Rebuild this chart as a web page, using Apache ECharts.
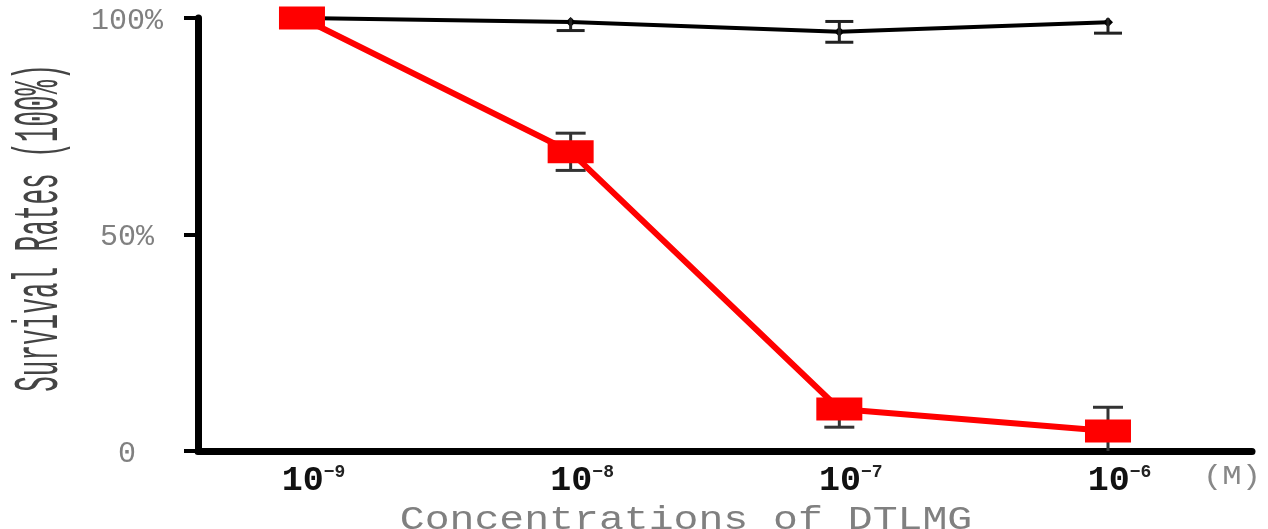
<!DOCTYPE html>
<html><head><meta charset="utf-8">
<script src="https://cdn.jsdelivr.net/npm/echarts@6/dist/echarts.min.js"></script>
<style>html,body{margin:0;padding:0;background:#fff}#c{width:1268px;height:529px}</style>
</head><body><div id="c"></div>
<script>
// log10 of concentration (M)
const concentrations = [-9, -8, -7, -6];
const xTickExponents = ['\u22129', '\u22128', '\u22127', '\u22126'];
const yTickValues = [0, 50, 100];
const yTickLabels = ['0', '50%', '100%'];
const controlValues = [100, 99.1, 96.8, 99.0];
const controlErr = [0.5, 2.0, 2.4, 2.5];
const dtlmgValues = [100, 69.1, 9.7, 4.6];
const dtlmgErrUp = [0, 4.3, 1.5, 5.5];
const dtlmgErrDown = [0, 4.3, 4.2, 5.5];

const chart = echarts.init(document.getElementById('c'));

function errData(vals, up, down) {
  return concentrations.map((x, i) => [x, vals[i] - down[i], vals[i] + up[i]]);
}
function errRender(color, capW, lw) {
  return function (params, api) {
    const x = api.value(0);
    const lo = api.coord([x, api.value(1)]);
    const hi = api.coord([x, api.value(2)]);
    const st = { stroke: color, lineWidth: lw };
    return {
      type: 'group',
      children: [
        { type: 'line', shape: { x1: lo[0], y1: lo[1], x2: hi[0], y2: hi[1] }, style: st },
        { type: 'line', shape: { x1: lo[0] - capW / 2, y1: lo[1], x2: lo[0] + capW / 2, y2: lo[1] }, style: st },
        { type: 'line', shape: { x1: hi[0] - capW / 2, y1: hi[1], x2: hi[0] + capW / 2, y2: hi[1] }, style: st }
      ]
    };
  };
}

chart.setOption({
  animation: false,
  backgroundColor: '#fff',
  grid: { left: 198, right: 16, top: 18, bottom: 78, containLabel: false },
  xAxis: {
    type: 'value', min: -9.387, max: -5.464,
    splitLine: { show: false },
    axisTick: { show: false },
    axisLine: { show: true, onZero: false, lineStyle: { color: '#000', width: 7 } },
    axisLabel: {
      customValues: concentrations,
      margin: 12,
      formatter: function (v) {
        const i = concentrations.indexOf(v);
        return '{sp| }{b|10}{s|' + xTickExponents[i] + '}';
      },
      rich: {
        sp: { width: 23, fontSize: 10 },
        b: { fontFamily: 'Liberation Mono', fontWeight: 'bold', fontSize: 35, color: '#111', lineHeight: 36 },
        s: { fontFamily: 'Liberation Mono', fontWeight: 'bold', fontSize: 18, color: '#222', verticalAlign: 'top', lineHeight: 36 }
      }
    }
  },
  yAxis: {
    type: 'value', min: 0, max: 100, interval: 50,
    splitLine: { show: false },
    axisLine: { show: true, lineStyle: { color: '#000', width: 7 } },
    axisTick: { show: true, length: 14, lineStyle: { color: '#000', width: 4 } },
    axisLabel: {
      margin: 71, align: 'center',
      fontFamily: 'Liberation Mono', fontSize: 30, color: '#808080',
      formatter: function (v) { const i = yTickValues.indexOf(v); return i >= 0 ? '{t|' + yTickLabels[i] + '}' : ''; },
      rich: { t: { fontFamily: 'Liberation Mono', fontSize: 30, color: '#808080', padding: [6, 0, 0, 0] } }
    }
  },
  series: [
    {
      name: 'Control', type: 'line', z: 2,
      data: concentrations.map((x, i) => [x, controlValues[i]]),
      lineStyle: { color: '#000', width: 4 },
      itemStyle: { color: '#000' },
      symbol: 'diamond', symbolSize: 10
    },
    {
      name: 'Control error', type: 'custom', z: 3, clip: true,
      data: errData(controlValues, controlErr, controlErr),
      renderItem: errRender('#222', 28, 3)
    },
    {
      name: 'DTLMG error', type: 'custom', z: 4, clip: true,
      data: errData(dtlmgValues, dtlmgErrUp, dtlmgErrDown),
      renderItem: errRender('#333', 30, 3)
    },
    {
      name: 'DTLMG', type: 'line', z: 5,
      data: concentrations.map((x, i) => [x, dtlmgValues[i]]),
      lineStyle: { color: '#ff0000', width: 6 },
      itemStyle: { color: '#ff0000' },
      symbol: 'rect', symbolSize: [46, 23]
    }
  ],
  graphic: [
    {
      type: 'text', x: 40, y: 228, rotation: Math.PI / 2, scaleX: 1, scaleY: 2.4,
      style: { text: 'Survival Rates (100%)', fontFamily: 'Liberation Mono', fontSize: 26, fill: '#444',
        align: 'center', verticalAlign: 'middle', textAlign: 'center', textVerticalAlign: 'middle' }
    },
    {
      type: 'text', x: 686, y: 520, scaleX: 1.22, scaleY: 1,
      style: { text: 'Concentrations of DTLMG', fontFamily: 'Liberation Mono', fontSize: 34, fill: '#808080',
        align: 'center', verticalAlign: 'middle', textAlign: 'center', textVerticalAlign: 'middle' }
    },
    {
      type: 'text', x: 1232, y: 477, scaleX: 1.15, scaleY: 1,
      style: { text: '(M)', fontFamily: 'Liberation Mono', fontSize: 28, fill: '#888',
        align: 'center', verticalAlign: 'middle', textAlign: 'center', textVerticalAlign: 'middle' }
    }
  ]
});
</script>
</body></html>
